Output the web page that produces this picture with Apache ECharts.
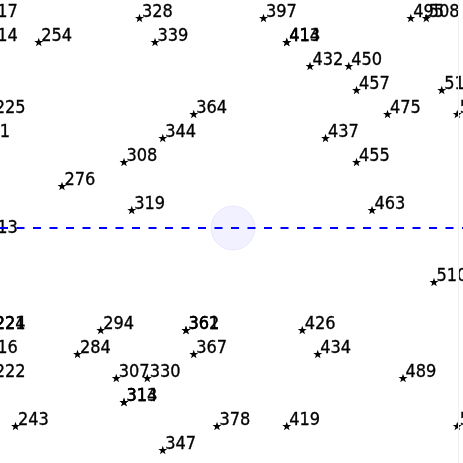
<!DOCTYPE html>
<html>
<head>
<meta charset="utf-8">
<script src="https://cdn.jsdelivr.net/npm/echarts@6/dist/echarts.min.js"></script>
<style>
html,body{margin:0;padding:0;background:#fff;}
#chart{width:463px;height:463px;}
</style>
</head>
<body>
<div id="chart"></div>
<script>
// Point columns (x), rows (y, counted from top) and their text labels
const cols = [-2, 18, 34, 53, 55,
              -2, 5, 20, 37, 37,
              40, 45,
              46, 57,
              -1, 25, 50, 59,
              -3, 21, 42,
              16, 46,
              8,
              17, 48,
              -2,
              56,
              -1, -1, 13, 24, 24, 39,
              -2, 10, 25, 41,
              -1, 15, 19, 52,
              16, 16,
              2, 28, 37, 59,
              21];
const rows = [0, 0, 0, 0, 0,
              1, 1, 1, 1, 1,
              2, 2,
              3, 3,
              4, 4, 4, 4,
              5, 5, 5,
              6, 6,
              7,
              8, 8,
              9,
              11,
              13, 13, 13, 13, 13, 13,
              14, 14, 14, 14,
              15, 15, 15, 15,
              16, 16,
              17, 17, 17, 17,
              18];
const labels = ['217', '328', '397', '495', '508',
                '214', '254', '339', '413', '414',
                '432', '450',
                '457', '515',
                '225', '364', '475', '521',
                '211', '344', '437',
                '308', '455',
                '276',
                '319', '463',
                '213',
                '510',
                '224', '221', '294', '361', '362', '426',
                '216', '284', '367', '434',
                '222', '307', '330', '489',
                '313', '314',
                '243', '378', '419', '524',
                '347'];
// highlighted centre point and reference level
const centerPoint = [30.06, 8.75];
const refLevel = 8.75;
const edgeColumn = 59.1;

const data = cols.map((c, i) => ({ value: [c, rows[i]], label: { formatter: labels[i] } }));

const star = 'path://M0,-10 L2.35,-3.24 L9.51,-3.09 L3.8,1.24 L5.88,8.09 L0,4 L-5.88,8.09 L-3.8,1.24 L-9.51,-3.09 L-2.35,-3.24 Z';

const chart = echarts.init(document.getElementById('chart'), null, { renderer: 'canvas' });
chart.setOption({
  animation: false,
  backgroundColor: '#ffffff',
  grid: { left: 0, right: 0, top: 0, bottom: 0 },
  xAxis: { type: 'value', min: 0, max: 59.74, show: false },
  yAxis: { type: 'value', min: -0.75, max: 18.5417, inverse: true, show: false },
  series: [
    {
      type: 'scatter',
      clip: false,
      data: [centerPoint],
      symbol: 'circle',
      symbolSize: 44,
      itemStyle: { color: 'rgba(0,0,255,0.065)', borderColor: 'rgba(0,0,255,0.09)', borderWidth: 1 },
      silent: true,
      z: 1
    },
    {
      type: 'scatter',
      clip: false,
      data: data,
      symbol: star,
      symbolKeepAspect: true,
      symbolSize: 9,
      itemStyle: { color: '#000000', opacity: 1 },
      label: {
        show: true,
        position: 'right',
        distance: -2,
        offset: [0, -6],
        color: '#000000',
        opacity: 1,
        textBorderColor: '#000000',
        textBorderWidth: 0.3,
        fontFamily: "'DejaVu Sans Condensed', 'Liberation Sans', sans-serif",
        fontSize: 18
      },
      z: 3
    },
    {
      type: 'line',
      data: [],
      markLine: {
        silent: true,
        symbol: ['none', 'none'],
        label: { show: false },
        data: [
          { yAxis: refLevel, lineStyle: { color: '#0000ff', width: 2, type: [8, 8.5] } },
          { xAxis: edgeColumn, lineStyle: { color: '#f0f0f0', width: 1, type: 'solid' } }
        ]
      },
      z: 4
    }
  ]
});
</script>
</body>
</html>
